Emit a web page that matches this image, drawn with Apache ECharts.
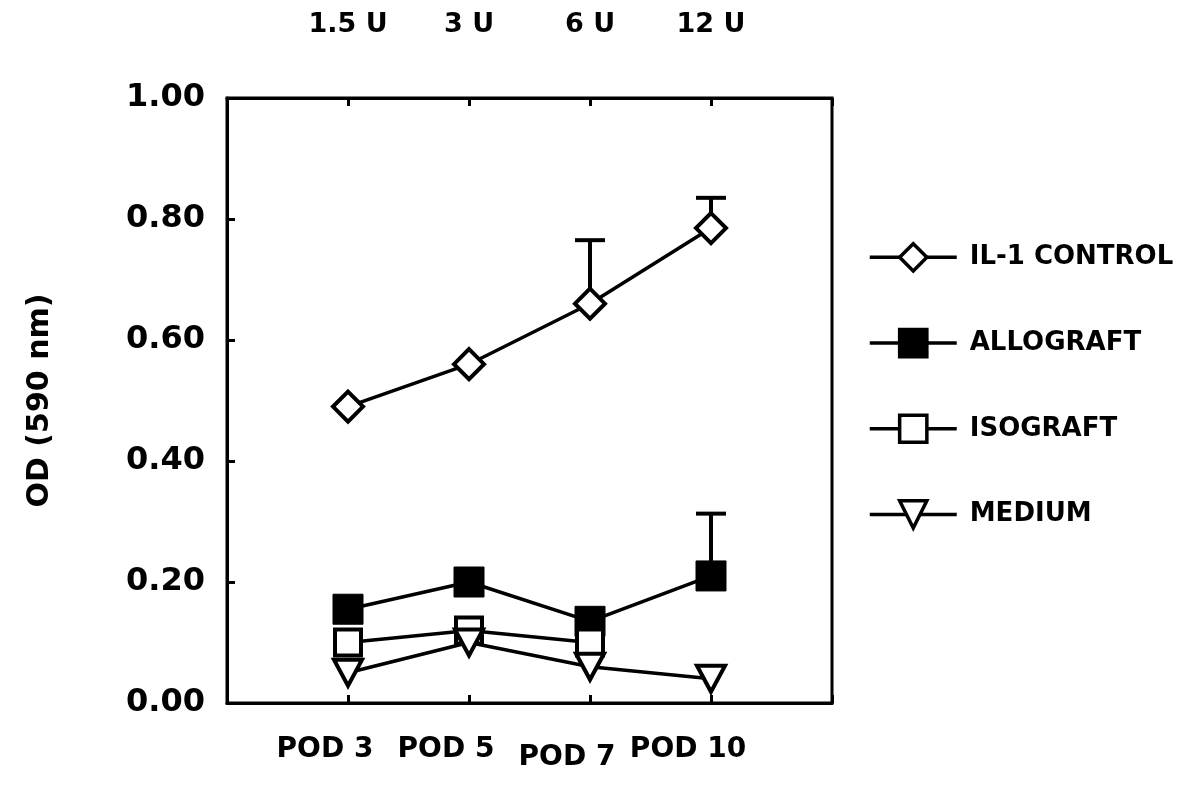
<!DOCTYPE html>
<html>
<head>
<meta charset="utf-8">
<script src="https://cdn.jsdelivr.net/npm/echarts@6/dist/echarts.min.js"></script>
<style>
  html, body { margin: 0; padding: 0; background: #fff; }
  #chart { width: 1199px; height: 794px; }
</style>
</head>
<body>
<div id="chart"></div>
<script>
const xPos = [1, 2, 3, 4];
const podLabels = ["POD 3", "POD 5", "POD 7", "POD 10"];
const unitLabels = ["1.5 U", "3 U", "6 U", "12 U"];
const il1Control = [0.49, 0.56, 0.66, 0.785];
const allograft = [0.155, 0.20, 0.135, 0.21];
const isograft = [0.10, 0.12, 0.10];
const medium = [0.05, 0.10, 0.06, 0.04];
// error bars: [x, mean, upper]
const il1Err = [[3, 0.66, 0.765], [4, 0.785, 0.835]];
const alloErr = [[4, 0.21, 0.313]];

const FONT = "DejaVu Sans";
const pair = (vals) => vals.map((v, i) => [xPos[i], v]);

function errRender(params, api) {
  const x = api.value(0);
  const lo = api.coord([x, api.value(1)]);
  const hi = api.coord([x, api.value(2)]);
  const st = { stroke: "#000", lineWidth: 4 };
  return {
    type: "group",
    children: [
      { type: "line", shape: { x1: lo[0], y1: lo[1], x2: hi[0], y2: hi[1] }, style: st },
      { type: "line", shape: { x1: hi[0] - 15, y1: hi[1], x2: hi[0] + 15, y2: hi[1] }, style: st },
    ],
  };
}

const solid = { color: "#000", borderColor: "#000", borderWidth: 1 };
const hollow = { color: "#fff", borderColor: "#000", borderWidth: 4 };

function lineSeries(name, symbol, size, itemStyle, vals, extra) {
  return Object.assign({
    type: "line",
    name: name,
    z: 3,
    symbol: symbol,
    symbolSize: size,
    lineStyle: { color: "#000", width: 3.5 },
    itemStyle: itemStyle,
    emphasis: { disabled: true },
    data: pair(vals),
  }, extra || {});
}

const chart = echarts.init(document.getElementById("chart"));
chart.setOption({
  animation: false,
  backgroundColor: "#fff",
  grid: { left: 227, right: 367, top: 98, bottom: 91, show: true, borderColor: "#000", borderWidth: 3 },
  legend: {
    data: ["IL-1 CONTROL", "ALLOGRAFT", "ISOGRAFT", "MEDIUM"],
    orient: "vertical",
    left: 863,
    top: 237,
    itemWidth: 87,
    itemHeight: 34,
    itemGap: 55,
    lineStyle: { width: 3.5, color: "#000" },
    itemStyle: { borderWidth: 3.5 },
    textStyle: { fontFamily: FONT, fontWeight: "bold", fontSize: 26, color: "#000", padding: [0, 0, 0, 8] },
  },
  xAxis: [
    {
      type: "value", min: 0, max: 5, interval: 1, position: "bottom",
      axisLine: { lineStyle: { color: "#000", width: 3 } },
      axisTick: { inside: true, length: 8, lineStyle: { color: "#000", width: 3 } },
      splitLine: { show: false },
      axisLabel: {
        margin: 33,
        fontFamily: FONT, fontWeight: "bold", fontSize: 28, color: "#000",
        formatter: (v) => {
          const i = Math.round(v) - 1;
          if (i < 0 || i >= podLabels.length) return "";
          return (i === 2 ? "{low|" : "{n|") + podLabels[i] + "}";
        },
        rich: {
          n: { fontFamily: FONT, fontWeight: "bold", fontSize: 28, color: "#000", padding: [0, 46, 0, 0] },
          low: { fontFamily: FONT, fontWeight: "bold", fontSize: 28, color: "#000", padding: [8, 46, 0, 0] },
        },
      },
    },
    {
      type: "value", min: 0, max: 5, interval: 1, position: "top",
      axisLine: { lineStyle: { color: "#000", width: 3 } },
      axisTick: { inside: true, length: 8, lineStyle: { color: "#000", width: 3 } },
      splitLine: { show: false },
      axisLabel: {
        margin: 60,
        fontFamily: FONT, fontWeight: "bold", fontSize: 27, color: "#000",
        formatter: (v) => unitLabels[Math.round(v) - 1] || "",
      },
    },
  ],
  yAxis: {
    type: "value", min: 0, max: 1, interval: 0.2,
    name: "OD (590 nm)",
    nameLocation: "middle",
    nameGap: 172,
    nameTextStyle: { fontFamily: FONT, fontWeight: "bold", fontSize: 30, color: "#000" },
    axisLine: { lineStyle: { color: "#000", width: 3 } },
    axisTick: { inside: true, length: 8, lineStyle: { color: "#000", width: 3 } },
    splitLine: { show: false },
    axisLabel: {
      margin: 22,
      fontFamily: FONT, fontWeight: "bold", fontSize: 32, color: "#000",
      formatter: (v) => v.toFixed(2),
    },
  },
  series: [
    { type: "custom", name: "err1", z: 1, renderItem: errRender, data: il1Err, silent: true },
    { type: "custom", name: "err2", z: 1, renderItem: errRender, data: alloErr, silent: true },
    lineSeries("IL-1 CONTROL", "diamond", 30, hollow, il1Control),
    lineSeries("ALLOGRAFT", "rect", 30, solid, allograft),
    lineSeries("ISOGRAFT", "rect", 26, hollow, isograft),
    lineSeries("MEDIUM", "triangle", [28, 26], hollow, medium, { symbolRotate: 180 }),
  ],
});
</script>
</body>
</html>
